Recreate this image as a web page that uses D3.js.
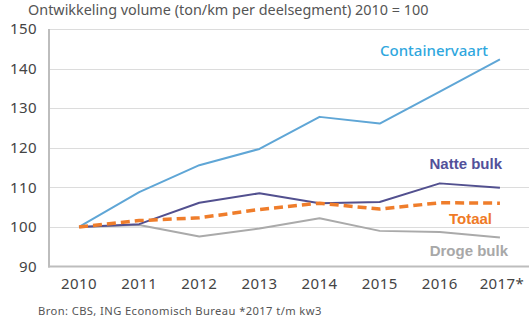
<!DOCTYPE html>
<html>
<head>
<meta charset="utf-8">
<script src="https://cdn.jsdelivr.net/npm/d3@7"></script>
<style>
  body { margin: 0; background: #fff; }
  #chart { width: 529px; height: 327px; }
  text { font-family: "Noto Sans", sans-serif; }
</style>
</head>
<body>
<div id="chart"></div>
<script>

const years = ["2010", "2011", "2012", "2013", "2014", "2015", "2016", "2017*"];
const yTicks = [90, 100, 110, 120, 130, 140, 150];

const containervaart = [100, 108.8, 115.6, 119.7, 127.8, 126.1, 134.2, 142.3];
const nattebulk = [100, 100.7, 106.1, 108.5, 106.0, 106.3, 111.0, 109.9];
const totaal = [100, 101.6, 102.3, 104.4, 106.0, 104.5, 106.1, 106.0];
const drogebulk = [100, 100.5, 97.6, 99.6, 102.2, 99.0, 98.7, 97.3];

const series = [
    {name: "Droge bulk", values: drogebulk, color: "#aaaaaa", label: "#a8a8a8", width: 2, dash: null, labelY: 93.9, labelX: 508, bold: true},
    {name: "Containervaart", values: containervaart, color: "#5fa6d6", label: "#2fa7de", width: 2, dash: null, labelY: 144.4, labelX: 488, bold: false},
    {name: "Natte bulk", values: nattebulk, color: "#52508f", label: "#52519a", width: 2, dash: null, labelY: 115.9, labelX: 502, bold: true},
    {name: "Totaal", values: totaal, color: "#ef7d2b", label: "#ef7a26", width: 3.5, dash: "9,5", labelY: 102.0, labelX: 492, bold: true}
];

const width = 529, height = 327;
const margin = {top: 29, right: 0, bottom: 60, left: 49};

const svg = d3.select("#chart")
    .append("svg")
    .attr("width", width)
    .attr("height", height);

const x = d3.scaleBand()
    .domain(years)
    .range([margin.left, width + 1]);

const y = d3.scaleLinear()
    .domain([90, 150])
    .range([height - margin.bottom - 0.5, margin.top]);

const cx = d => x(d) + x.bandwidth() / 2;

// title
svg.append("text")
    .attr("x", 28)
    .attr("y", 15)
    .attr("fill", "#555")
    .style("font-size", "14.4px")
    .text("Ontwikkeling volume (ton/km per deelsegment) 2010 = 100");

// gridlines
svg.selectAll(".grid")
    .data(yTicks.filter(d => d > 90))
    .enter()
    .append("line")
    .attr("x1", margin.left)
    .attr("x2", width)
    .attr("y1", d => Math.round(y(d)) + 0.5)
    .attr("y2", d => Math.round(y(d)) + 0.5)
    .attr("stroke", "#dcdcdc")
    .attr("stroke-width", 1);

// axes lines
svg.append("line")
    .attr("x1", margin.left).attr("x2", margin.left)
    .attr("y1", y(150)).attr("y2", y(90) + 1)
    .attr("stroke", "#bdbdbd").attr("stroke-width", 2);

svg.append("line")
    .attr("x1", margin.left - 1).attr("x2", width)
    .attr("y1", y(90)).attr("y2", y(90))
    .attr("stroke", "#bdbdbd").attr("stroke-width", 2);

// y tick labels
const yAxis = d3.axisLeft(y).tickValues(yTicks).tickSize(0).tickPadding(12);
const gy = svg.append("g")
    .attr("transform", `translate(${margin.left},0)`)
    .call(yAxis);
gy.select(".domain").remove();
gy.selectAll("text")
    .attr("fill", "#444")
    .style("font-size", "15px")
    .style("letter-spacing", "0.4px")
    .style("font-family", "'Noto Sans', sans-serif");

// x tick labels
const xAxis = d3.axisBottom(x).tickSize(0).tickPadding(12);
const gx = svg.append("g")
    .attr("transform", `translate(0,${y(90)})`)
    .call(xAxis);
gx.select(".domain").remove();
gx.selectAll("text")
    .attr("fill", "#444")
    .attr("dx", d => d.endsWith("*") ? "2px" : 0)
    .style("font-size", "15px")
    .style("letter-spacing", "0.4px")
    .style("font-family", "'Noto Sans', sans-serif");

// lines
const line = d3.line()
    .x((d, i) => cx(years[i]))
    .y(d => y(d));

svg.selectAll(".series")
    .data(series)
    .enter()
    .append("path")
    .attr("d", d => line(d.values))
    .attr("fill", "none")
    .attr("stroke", d => d.color)
    .attr("stroke-width", d => d.width)
    .attr("stroke-dasharray", d => d.dash)
    .attr("stroke-linejoin", "round");

// series labels
svg.selectAll(".lbl")
    .data(series)
    .enter()
    .append("text")
    .attr("x", d => d.labelX)
    .attr("y", d => y(d.labelY))
    .attr("dy", "0.35em")
    .attr("text-anchor", "end")
    .attr("fill", d => d.label)
    .style("font-family", d => d.bold ? "'Liberation Sans', Arial, sans-serif" : "'Noto Sans', sans-serif")
    .style("font-weight", d => d.bold ? "bold" : "500")
    .style("font-size", d => d.bold ? "15px" : "15px")
    .text(d => d.name);

// source
svg.append("text")
    .attr("x", 38)
    .attr("y", 315)
    .attr("fill", "#555")
    .style("font-size", "11.2px")
    .style("letter-spacing", "0.4px")
    .text("Bron: CBS, ING Economisch Bureau *2017 t/m kw3");

</script>
</body>
</html>
